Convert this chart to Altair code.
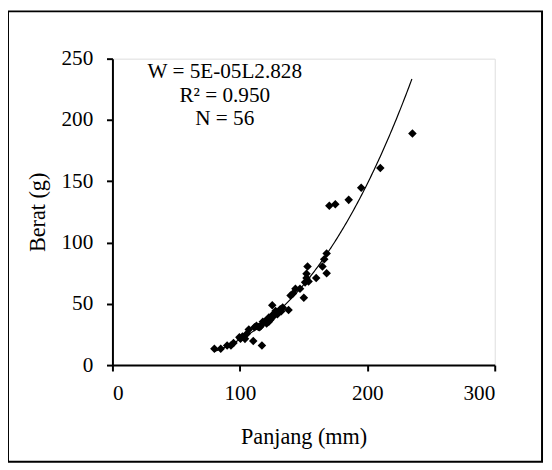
import altair as alt
import pandas as pd

# Measured data: length (mm) and weight (g)
panjang = [80, 85, 90, 93, 95, 99.6, 100.5, 102, 104, 105.5, 107, 110.5, 111.5, 113,
           114.5, 115.5, 116.5, 117.3, 118, 120, 121, 122.7, 122.7, 124, 125.4, 125.4,
           126, 127, 128, 129.5, 130.3, 131.7, 132.5, 133.6, 138.2, 139.8, 141.7, 143.6,
           147.2, 150.2, 151.2, 152.3, 152.3, 153.1, 153.9, 159.9, 164.8, 166.2, 168.1,
           168.1, 170.2, 174.9, 185.4, 195.2, 210.2, 235.4]
berat = [13.4, 13.4, 16, 16, 18, 22.8, 21.5, 23.3, 21.4, 25.5, 29, 19.6, 30.8, 32,
         31, 30.8, 32, 16, 35.4, 36, 34, 38.9, 35.4, 37, 48.8, 40.7,
         39.5, 41.5, 44.2, 41.5, 42.9, 45.5, 44, 46.9, 45, 56.8, 58.4, 62.2,
         62.2, 54.9, 67.5, 74.5, 71, 80.4, 68.3, 71, 80.4, 86.3, 91.1,
         75, 130, 131.3, 134.8, 144.7, 160.8, 188.9]

# Power trendline W = a * L^b (as drawn in the reference)
coef_a = 4.6e-5
coef_b = 2.828
curve_start = 80
curve_end = 235

x_ticks = [0, 100, 200, 300]
y_ticks = [0, 50, 100, 150, 200, 250]
annotation = ["W = 5E-05L2.828", "R\u00b2 = 0.950", "N = 56"]

FONT = "Liberation Serif"

df = pd.DataFrame({"Panjang": panjang, "Berat": berat})

xscale = alt.Scale(domain=[0, 300], nice=False)
yscale = alt.Scale(domain=[0, 250], nice=False)

xaxis = alt.Axis(values=x_ticks, title="Panjang (mm)", grid=False,
                 domainColor="black", domainWidth=2, tickColor="black", tickWidth=2,
                 tickSize=6, labelFont=FONT, labelFontSize=21.5, labelColor="black",
                 labelPadding=12, titleFont=FONT, titleFontSize=22.5, titleFontWeight="normal",
                 titleColor="black", titlePadding=22)
yaxis = alt.Axis(values=y_ticks, title="Berat (g)", grid=False,
                 domainColor="black", domainWidth=2, tickColor="black", tickWidth=2,
                 tickSize=6, labelFont=FONT, labelFontSize=21.5, labelColor="black",
                 labelPadding=14, titleFont=FONT, titleFontSize=22.5, titleFontWeight="normal",
                 titleColor="black", titlePadding=12)

points = alt.Chart(df).mark_point(shape="diamond", filled=True, color="black",
                                  size=75, opacity=1).encode(
    x=alt.X("Panjang:Q", scale=xscale, axis=xaxis),
    y=alt.Y("Berat:Q", scale=yscale, axis=yaxis),
)

curve = alt.Chart(alt.sequence(0, 1.0001, 0.005, as_="t")).transform_calculate(
    Panjang=f"{curve_start} + datum.t * ({curve_end} - {curve_start})"
).transform_calculate(
    Berat=f"{coef_a} * pow(datum.Panjang, {coef_b})"
).mark_line(color="black", strokeWidth=1.2).encode(
    x=alt.X("Panjang:Q", scale=xscale),
    y=alt.Y("Berat:Q", scale=yscale),
)

text = alt.Chart(alt.Data(values=[{"k": 1}])).mark_text(
    font=FONT, fontSize=21.5, color="black", align="center", baseline="alphabetic",
    lineHeight=23.5, text=annotation
).encode(x=alt.value(114), y=alt.value(20))

frame = alt.Chart(alt.Data(values=[{"k": 1}])).mark_rect(
    fill=None, fillOpacity=0, stroke="black", strokeWidth=2
).encode(x=alt.value(-106), y=alt.value(-48), x2=alt.value(436), y2=alt.value(409))

chart = alt.layer(frame, curve, points, text).properties(
    width=388, height=311,
    autosize=alt.AutoSizeParams(type="none"),
    padding={"left": 106, "top": 48, "right": 50, "bottom": 100},
).configure_view(stroke=None).configure(background="white")

chart.save("out.html", embed_options={"renderer": "svg", "actions": False})
